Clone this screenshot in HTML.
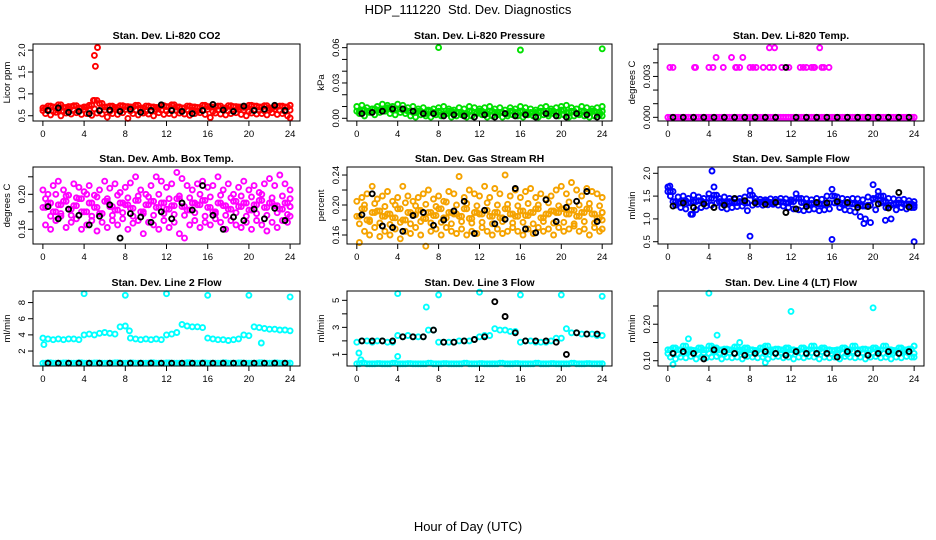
<!DOCTYPE html>
<html><head><meta charset="utf-8"><style>
html,body{margin:0;padding:0;background:#fff;}
svg{display:block;font-family:"Liberation Sans",Arial,sans-serif;}
</style></head><body>
<svg id="c" width="936" height="540" viewBox="0 0 936 540" xmlns="http://www.w3.org/2000/svg">
<text x="468" y="14" text-anchor="middle" font-size="13">HDP_111220&#160; Std. Dev. Diagnostics</text>
<text x="468" y="531" text-anchor="middle" font-size="13">Hour of Day (UTC)</text>
</svg>
<script>
const tHalf = Array.from({length:49},(_, i)=>i*0.5);
const tOff = Array.from({length:49},(_, i)=>Math.min(i*0.5+0.25,24));
const tHour = Array.from({length:24},(_, i)=>i+0.5);
const xTicks = [0,4,8,12,16,20,24];

// CO2
const coA=[0.68,0.72,0.70,0.75,0.69,0.71,0.73,0.68,0.70,0.74,0.85,0.78,0.70,0.72,0.69,0.73,0.71,0.70,0.74,0.68,0.72,0.70,0.69,0.73,0.71,0.75,0.70,0.68,0.72,0.70,0.69,0.74,0.71,0.70,0.72,0.68,0.73,0.71,0.70,0.69,0.74,0.72,0.70,0.73,0.68,0.71,0.72,0.70,0.74];
const coB=[0.55,0.52,0.58,0.50,0.56,0.54,0.57,0.53,0.55,0.51,0.56,0.54,0.47,0.55,0.53,0.57,0.44,0.55,0.52,0.56,0.54,0.50,0.57,0.53,0.55,0.52,0.56,0.54,0.51,0.55,0.57,0.53,0.46,0.56,0.54,0.52,0.55,0.57,0.53,0.50,0.56,0.54,0.55,0.52,0.57,0.53,0.55,0.50,0.45];
const coC=[0.62,0.64,0.60,0.63,0.61,0.65,0.62,0.60,0.64,0.63,0.66,0.61,0.63,0.60,0.65,0.62,0.64,0.61,0.63,0.65,0.60,0.62,0.64,0.63,0.61,0.65,0.62,0.60,0.64,0.63,0.61,0.62,0.65,0.60,0.63,0.64,0.61,0.62,0.65,0.63,0.60,0.64,0.62,0.61,0.63,0.65,0.62,0.60,0.63];
const coOutT=[4.9,5.0,5.1,5.3];
const coOutV=[0.85,1.88,1.63,2.06];
const coK=[0.62,0.68,0.58,0.60,0.55,0.62,0.63,0.60,0.65,0.58,0.62,0.75,0.62,0.60,0.55,0.62,0.76,0.63,0.60,0.72,0.62,0.65,0.74,0.62];

// Pressure
const gA=[0.010,0.011,0.009,0.008,0.010,0.012,0.011,0.010,0.012,0.011,0.009,0.010,0.008,0.009,0.007,0.008,0.009,0.010,0.008,0.007,0.009,0.008,0.010,0.009,0.008,0.009,0.010,0.008,0.009,0.007,0.009,0.008,0.010,0.009,0.008,0.007,0.009,0.010,0.008,0.009,0.010,0.011,0.009,0.008,0.010,0.009,0.008,0.009,0.010];
const gB=[0.004,0.002,0.005,0.003,0.005,0.006,0.004,0.003,0.005,0.004,0.002,0.001,0.003,0.002,0.001,0.003,0.002,0.004,0.001,0.002,0.003,0.001,0.002,0.004,0.003,0.001,0.002,0.003,0.001,0.002,0.003,0.002,0.001,0.003,0.002,0.001,0.003,0.002,0.004,0.002,0.003,0.001,0.002,0.003,0.002,0.001,0.002,0.003,0.002];
const gC=[0.006,0.007,0.006,0.008,0.007,0.008,0.009,0.007,0.008,0.007,0.006,0.005,0.006,0.004,0.006,0.005,0.006,0.004,0.006,0.005,0.005,0.004,0.006,0.005,0.006,0.004,0.006,0.005,0.005,0.004,0.006,0.005,0.006,0.004,0.005,0.005,0.006,0.004,0.006,0.005,0.007,0.005,0.006,0.004,0.006,0.005,0.006,0.005,0.006];
const gOutT=[8,16,24];
const gOutV=[0.060,0.058,0.059];
const gK=[0.004,0.005,0.006,0.008,0.008,0.006,0.004,0.004,0.002,0.003,0.002,0.001,0.003,0.001,0.004,0.002,0.003,0.001,0.004,0.002,0.001,0.004,0.003,0.001];

// Li-820 Temp
const tmZero=[0,0,0,0,0,0,0,0,0,0,0,0,0,0,0,0,0,0,0,0,0,0,0,0,0,0,0,0,0,0,0,0,0,0,0,0,0,0,0,0,0,0,0,0,0,0,0,0,0];
const tmUpT=[0.2,0.5,2.6,2.7,4.0,4.4,5.4,6.6,6.7,7.0,8.0,8.3,8.6,9.3,9.9,10.3,11.1,11.8,12.9,13.2,13.5,14.0,14.2,14.3,15.0,15.2,15.7,4.7,6.2,7.3,9.9,10.4,14.8];
const tmUpV=[0.00366,0.00366,0.00366,0.00366,0.00366,0.00366,0.00366,0.00366,0.00366,0.00366,0.00366,0.00366,0.00366,0.00366,0.00366,0.00366,0.00366,0.00366,0.00366,0.00366,0.00366,0.00366,0.00366,0.00366,0.00366,0.00366,0.00366,0.0044,0.0044,0.0044,0.0051,0.0051,0.0051];
const tmK=[0,0,0,0,0,0,0,0,0,0,0,0.00366,0,0,0,0,0,0,0,0,0,0,0,0];

// Box temp
const bA=[0.205,0.200,0.210,0.215,0.205,0.199,0.212,0.208,0.203,0.210,0.199,0.205,0.215,0.207,0.212,0.202,0.208,0.213,0.220,0.205,0.200,0.210,0.220,0.215,0.208,0.212,0.225,0.218,0.210,0.205,0.212,0.215,0.208,0.210,0.220,0.205,0.212,0.200,0.208,0.215,0.205,0.210,0.202,0.212,0.218,0.210,0.222,0.212,0.205];
const bB=[0.165,0.160,0.170,0.175,0.162,0.168,0.172,0.160,0.165,0.170,0.158,0.168,0.162,0.170,0.165,0.172,0.160,0.167,0.170,0.155,0.168,0.165,0.160,0.170,0.162,0.168,0.155,0.150,0.165,0.170,0.162,0.168,0.165,0.172,0.168,0.160,0.170,0.165,0.162,0.168,0.160,0.170,0.165,0.158,0.168,0.162,0.170,0.168,0.175];
const bC=[0.185,0.190,0.180,0.188,0.192,0.183,0.187,0.195,0.180,0.190,0.185,0.178,0.192,0.186,0.182,0.190,0.188,0.184,0.193,0.180,0.188,0.192,0.185,0.190,0.183,0.187,0.195,0.186,0.182,0.190,0.188,0.193,0.185,0.180,0.190,0.187,0.183,0.192,0.186,0.190,0.182,0.188,0.193,0.185,0.190,0.187,0.183,0.190,0.186];
const bD=[0.195,0.175,0.200,0.178,0.198,0.176,0.196,0.180,0.200,0.175,0.197,0.178,0.195,0.176,0.199,0.179,0.196,0.175,0.198,0.178,0.197,0.176,0.200,0.178,0.195,0.177,0.198,0.176,0.196,0.179,0.200,0.175,0.197,0.178,0.199,0.176,0.196,0.179,0.198,0.175,0.197,0.178,0.200,0.176,0.196,0.179,0.198,0.177,0.195];
const bK=[0.186,0.172,0.183,0.176,0.165,0.175,0.188,0.150,0.178,0.174,0.168,0.180,0.172,0.190,0.182,0.210,0.176,0.160,0.174,0.170,0.183,0.172,0.184,0.170];

// Gas stream RH
const rA=[0.205,0.210,0.215,0.225,0.208,0.212,0.218,0.205,0.210,0.225,0.212,0.205,0.210,0.215,0.220,0.208,0.212,0.205,0.218,0.215,0.238,0.210,0.220,0.215,0.212,0.225,0.210,0.222,0.215,0.240,0.212,0.220,0.210,0.218,0.222,0.210,0.215,0.208,0.212,0.220,0.225,0.215,0.230,0.220,0.212,0.222,0.218,0.215,0.210];
const rB=[0.150,0.165,0.160,0.170,0.158,0.165,0.160,0.168,0.155,0.165,0.162,0.170,0.160,0.145,0.165,0.168,0.160,0.170,0.165,0.162,0.168,0.160,0.165,0.162,0.170,0.165,0.160,0.168,0.162,0.165,0.170,0.165,0.160,0.168,0.162,0.170,0.165,0.168,0.160,0.170,0.165,0.168,0.172,0.165,0.168,0.160,0.170,0.165,0.168];
const rC=[0.185,0.195,0.180,0.190,0.192,0.185,0.188,0.183,0.195,0.180,0.190,0.187,0.193,0.182,0.190,0.186,0.195,0.183,0.190,0.188,0.185,0.195,0.182,0.190,0.188,0.193,0.185,0.190,0.183,0.195,0.188,0.185,0.192,0.186,0.190,0.195,0.183,0.188,0.192,0.190,0.195,0.188,0.193,0.185,0.190,0.195,0.188,0.183,0.190];
const rD=[0.175,0.200,0.178,0.202,0.176,0.198,0.174,0.200,0.177,0.203,0.175,0.199,0.178,0.201,0.176,0.198,0.177,0.204,0.175,0.200,0.178,0.202,0.176,0.199,0.177,0.203,0.175,0.200,0.178,0.201,0.176,0.199,0.177,0.202,0.175,0.200,0.178,0.203,0.176,0.199,0.177,0.204,0.175,0.200,0.178,0.202,0.176,0.199,0.180];
const rK=[0.187,0.215,0.172,0.170,0.165,0.186,0.190,0.173,0.180,0.192,0.205,0.162,0.193,0.175,0.181,0.222,0.168,0.163,0.207,0.178,0.197,0.205,0.218,0.178];

// Sample flow
const sA=[1.70,1.60,1.48,1.50,1.45,1.52,1.48,1.45,1.55,1.70,1.45,1.48,1.45,1.43,1.45,1.48,1.62,1.45,1.43,1.42,1.44,1.43,1.45,1.44,1.42,1.55,1.45,1.44,1.42,1.45,1.43,1.50,1.65,1.48,1.45,1.43,1.45,1.44,1.42,1.48,1.43,1.60,1.50,1.45,1.44,1.42,1.43,1.40,1.38];
const sB=[1.50,1.30,1.25,1.22,1.10,1.20,1.25,1.28,1.30,1.35,1.25,1.22,1.25,1.27,1.28,1.18,1.30,1.32,1.30,1.31,1.32,1.30,1.28,1.25,1.22,1.20,1.18,1.20,1.22,1.18,1.20,1.22,1.35,1.25,1.20,1.18,1.15,1.05,1.00,0.92,1.20,1.35,1.25,1.00,1.20,1.25,1.22,1.25,1.25];
const sC=[1.60,1.38,1.35,1.40,1.35,1.38,1.40,1.36,1.45,1.52,1.38,1.35,1.38,1.36,1.38,1.35,1.52,1.38,1.37,1.38,1.36,1.38,1.37,1.35,1.38,1.45,1.36,1.32,1.34,1.33,1.32,1.35,1.50,1.35,1.32,1.34,1.33,1.30,1.28,1.30,1.45,1.50,1.38,1.30,1.33,1.35,1.32,1.33,1.30];
const sOutT=[4.3,8.0,16.0,24.0,19.1,21.2,2.4,0.2,20.0];
const sOutV=[2.05,0.62,0.55,0.50,0.90,0.97,1.10,1.72,1.75];
const sK=[1.28,1.35,1.25,1.33,1.25,1.30,1.45,1.40,1.35,1.32,1.36,1.14,1.22,1.27,1.36,1.35,1.38,1.36,1.25,1.27,1.33,1.24,1.58,1.26];

// Line 2 flow
const l2Hi=[3.6,3.5,3.4,3.5,3.4,3.5,3.5,3.4,4.0,4.1,4.0,4.2,4.3,4.2,4.1,5.0,5.1,3.6,3.5,3.4,3.5,3.4,3.5,3.4,4.0,4.1,4.3,5.3,5.1,5.0,5.0,4.9,3.6,3.5,3.4,3.4,3.3,3.4,3.5,4.0,3.9,5.0,4.9,4.8,4.7,4.7,4.6,4.6,4.5];
const l2Lo=[0.5,0.55,0.5,0.5,0.52,0.5,0.5,0.55,0.5,0.5,0.52,0.5,0.5,0.5,0.55,0.5,0.5,0.52,0.5,0.5,0.5,0.55,0.5,0.5,0.52,0.5,0.5,0.5,0.55,0.5,0.5,0.52,0.5,0.5,0.5,0.55,0.5,0.5,0.52,0.5,0.5,0.5,0.55,0.5,0.5,0.52,0.5,0.5,0.5];
const l2OutT=[0.1,4,8,12,16,20,21.2,24,8.4];
const l2OutV=[2.8,9.1,8.9,9.1,8.9,8.9,3.0,8.7,4.5];
const l2K=[0.5,0.5,0.5,0.5,0.5,0.5,0.5,0.5,0.5,0.5,0.5,0.5,0.5,0.5,0.5,0.5,0.5,0.5,0.5,0.5,0.5,0.5,0.5,0.5];

// Line 3 flow
const l3Hi=[1.9,2.0,2.0,1.9,2.0,2.0,1.9,1.9,2.4,2.3,2.4,2.3,2.3,2.3,2.8,2.8,1.9,1.9,1.9,1.9,2.0,2.0,2.0,2.1,2.3,2.4,2.4,2.9,2.8,2.8,2.7,2.7,1.9,2.0,2.0,1.9,1.9,1.9,2.0,2.2,2.2,2.9,2.6,2.6,2.5,2.5,2.5,2.4,2.4];
const l3Lo=[0.3,0.35,0.3,0.3,0.32,0.3,0.3,0.35,0.3,0.3,0.32,0.3,0.3,0.3,0.35,0.3,0.3,0.32,0.3,0.3,0.3,0.35,0.3,0.3,0.32,0.3,0.3,0.3,0.35,0.3,0.3,0.32,0.3,0.3,0.3,0.35,0.3,0.3,0.32,0.3,0.3,0.3,0.35,0.3,0.3,0.32,0.3,0.3,0.3];
const l3OutT=[0.2,4,4,6.8,8,12,16,20,24,0.4];
const l3OutV=[1.1,5.5,0.85,4.5,5.4,5.6,5.4,5.4,5.3,0.6];
const l3K=[2.0,2.0,2.0,2.0,2.3,2.3,2.3,2.8,1.9,1.9,2.0,2.1,2.3,4.9,3.8,2.6,2.0,2.0,2.0,1.9,1.0,2.6,2.5,2.5];

// Line 4 flow
const l4A=[0.13,0.135,0.13,0.14,0.13,0.128,0.135,0.13,0.14,0.135,0.13,0.132,0.13,0.138,0.13,0.135,0.13,0.128,0.135,0.14,0.13,0.132,0.13,0.135,0.13,0.128,0.135,0.13,0.14,0.13,0.135,0.13,0.128,0.13,0.135,0.13,0.14,0.13,0.132,0.13,0.135,0.13,0.14,0.13,0.128,0.135,0.13,0.132,0.14];
const l4B=[0.11,0.105,0.11,0.108,0.112,0.105,0.11,0.108,0.11,0.112,0.105,0.11,0.108,0.11,0.105,0.112,0.11,0.108,0.11,0.105,0.11,0.112,0.108,0.11,0.105,0.11,0.108,0.112,0.11,0.105,0.11,0.108,0.11,0.105,0.112,0.11,0.108,0.11,0.105,0.11,0.112,0.108,0.11,0.105,0.11,0.108,0.112,0.11,0.11];
const l4C=[0.12,0.122,0.118,0.12,0.125,0.12,0.118,0.122,0.12,0.125,0.12,0.118,0.122,0.12,0.125,0.118,0.12,0.122,0.12,0.118,0.125,0.12,0.122,0.118,0.12,0.125,0.12,0.118,0.122,0.12,0.125,0.12,0.118,0.122,0.12,0.118,0.125,0.12,0.122,0.118,0.12,0.125,0.12,0.118,0.122,0.12,0.125,0.12,0.12];
const l4OutT=[4,12,20,2.0,0.5,4.8,9.5,7.0];
const l4OutV=[0.285,0.235,0.245,0.16,0.09,0.17,0.095,0.15];
const l4K=[0.12,0.125,0.12,0.105,0.13,0.125,0.12,0.115,0.12,0.125,0.12,0.115,0.125,0.12,0.12,0.12,0.11,0.125,0.12,0.115,0.12,0.125,0.12,0.125];

const cols=[33,347,658], colW=[267,265,266];
const rowTop=[44,167,291], rowBot=[121,244,366];
const XD=[-0.96,24.96];
const NS="http://www.w3.org/2000/svg";
const svg=document.getElementById('c');
function mk(tag,attrs,parent){const e=document.createElementNS(NS,tag);for(const k in attrs)e.setAttribute(k,attrs[k]);(parent||svg).appendChild(e);return e;}

const panels=[
 {c:0,r:0,name:'co2',title:'Stan. Dev. Li-820 CO2',ylab:'Licor ppm',yd:[0.38,2.14],ticks:[0.5,1.0,1.5,2.0],labels:['0.5','1.0','1.5','2.0'],
  series:[[tHalf,coA,'#ff0000'],[tOff,coB,'#ff0000'],[tHalf,coC,'#ff0000'],[tOff,coA,'#ff0000'],[coOutT,coOutV,'#ff0000'],[tHour,coK,'#000']]},
 {c:1,r:0,name:'pressure',title:'Stan. Dev. Li-820 Pressure',ylab:'kPa',yd:[-0.0023,0.0631],ticks:[0,0.01,0.02,0.03,0.04,0.05,0.06],labels:['0.00','','','0.03','','','0.06'],
  series:[[tHalf,gA,'#00e000'],[tOff,gB,'#00e000'],[tHalf,gC,'#00e000'],[tOff,gC,'#00e000'],[gOutT,gOutV,'#00e000'],[tHour,gK,'#000']]},
 {c:2,r:0,name:'li820-temp',title:'Stan. Dev. Li-820 Temp.',ylab:'degrees C',yd:[-0.00027,0.00538],ticks:[0,0.001,0.002,0.003,0.004,0.005],labels:['0.000','','','0.003','',''],
  series:[[tHalf,tmZero,'#ff00ff'],[tOff,tmZero,'#ff00ff'],[tmUpT,tmUpV,'#ff00ff'],[tHour,tmK,'#000']]},
 {c:0,r:1,name:'box-temp',title:'Stan. Dev. Amb. Box Temp.',ylab:'degrees C',yd:[0.1432,0.2312],ticks:[0.16,0.18,0.20,0.22],labels:['0.16','','0.20',''],
  series:[[tHalf,bA,'#ff00ff'],[tOff,bB,'#ff00ff'],[tHalf,bC,'#ff00ff'],[tOff,bD,'#ff00ff'],[tOff,bC,'#ff00ff'],[tHour,bK,'#000']]},
 {c:1,r:1,name:'gas-rh',title:'Stan. Dev. Gas Stream RH',ylab:'percent',yd:[0.148,0.2507],ticks:[0.16,0.18,0.20,0.22,0.24],labels:['0.16','','0.20','','0.24'],
  series:[[tHalf,rA,'#f5a300'],[tOff,rB,'#f5a300'],[tHalf,rC,'#f5a300'],[tOff,rD,'#f5a300'],[tOff,rC,'#f5a300'],[tHour,rK,'#000']]},
 {c:2,r:1,name:'sample-flow',title:'Stan. Dev. Sample Flow',ylab:'ml/min',yd:[0.45,2.138],ticks:[0.5,1.0,1.5,2.0],labels:['0.5','1.0','1.5','2.0'],
  series:[[tHalf,sA,'#0000ff'],[tOff,sB,'#0000ff'],[tHalf,sC,'#0000ff'],[tOff,sC,'#0000ff'],[sOutT,sOutV,'#0000ff'],[tHour,sK,'#000']]},
 {c:0,r:2,name:'line2-flow',title:'Stan. Dev. Line 2 Flow',ylab:'ml/min',yd:[0.15,9.43],ticks:[2,4,6,8],labels:['2','4','6','8'],
  series:[[tHalf,l2Hi,'#00ffff'],[tHalf,l2Lo,'#00ffff'],[tOff,l2Lo,'#00ffff'],[l2OutT,l2OutV,'#00ffff'],[tHour,l2K,'#000']]},
 {c:1,r:2,name:'line3-flow',title:'Stan. Dev. Line 3 Flow',ylab:'ml/min',yd:[0.14,5.69],ticks:[1,2,3,4,5],labels:['1','','3','','5'],
  series:[[tHalf,l3Hi,'#00ffff'],[tHalf,l3Lo,'#00ffff'],[tOff,l3Lo,'#00ffff'],[l3OutT,l3OutV,'#00ffff'],[tHour,l3K,'#000']]},
 {c:2,r:2,name:'line4-flow',title:'Stan. Dev. Line 4 (LT) Flow',ylab:'ml/min',yd:[0.0856,0.291],ticks:[0.10,0.15,0.20,0.25],labels:['0.10','','0.20',''],
  series:[[tHalf,l4A,'#00ffff'],[tOff,l4B,'#00ffff'],[tHalf,l4C,'#00ffff'],[tOff,l4A,'#00ffff'],[l4OutT,l4OutV,'#00ffff'],[tHour,l4K,'#000']]},
];

panels.forEach(p=>{
  const L=cols[p.c], W=colW[p.c], T=rowTop[p.r], B=rowBot[p.r];
  const xs=v=>L+(v-XD[0])/(XD[1]-XD[0])*W;
  const ys=v=>B-(v-p.yd[0])/(p.yd[1]-p.yd[0])*(B-T);
  const g=mk('g',{});
  
  
  const tt=mk('text',{x:L+W/2,y:T-5,'text-anchor':'middle','font-size':'10.5','font-weight':'bold'},g);
  tt.textContent=p.title;
  
  
  const pg=mk('g',{fill:'none','stroke-width':'1.9'},g);
  
  
  p.series.forEach(s=>{
    const [tx,vy,col]=s;
    for(let i=0;i<vy.length;i++){
      const cc=mk('circle',{cx:xs(tx[i]).toFixed(1),cy:ys(vy[i]).toFixed(1),r:'2.5',stroke:col},pg);
      
      
    }
  });
  const box=mk('rect',{x:L,y:T,width:W,height:B-T,fill:'none',stroke:'#000','stroke-width':'1'},g);
  
  
  const xa=mk('g',{},g);
  
  
  mk('line',{x1:xs(0),x2:xs(24),y1:B,y2:B,stroke:'#000'},xa);
  xTicks.forEach(v=>{
    mk('line',{x1:xs(v),x2:xs(v),y1:B,y2:B+5,stroke:'#000'},xa);
    const t=mk('text',{x:xs(v),y:B+16,'text-anchor':'middle','font-size':'9.5'},xa);
    t.textContent=v;
    
    
  });
  const ya=mk('g',{},g);
  
  
  mk('line',{x1:L,x2:L,y1:ys(p.ticks[0]),y2:ys(p.ticks[p.ticks.length-1]),stroke:'#000'},ya);
  p.ticks.forEach((v,i)=>{
    const y=ys(v);
    mk('line',{x1:L-5,x2:L,y1:y,y2:y,stroke:'#000'},ya);
    if(p.labels[i]){
      const t=mk('text',{x:L-8,y:y,'text-anchor':'middle','font-size':'9.5',transform:`rotate(-90 ${L-8} ${y})`},ya);
      t.textContent=p.labels[i];
      
      
    }
  });
  const yt=mk('text',{x:L-23,y:(T+B)/2,'text-anchor':'middle','font-size':'9.5',transform:`rotate(-90 ${L-23} ${(T+B)/2})`},ya);
  yt.textContent=p.ylab;
  
  
});
</script>
</body></html>
